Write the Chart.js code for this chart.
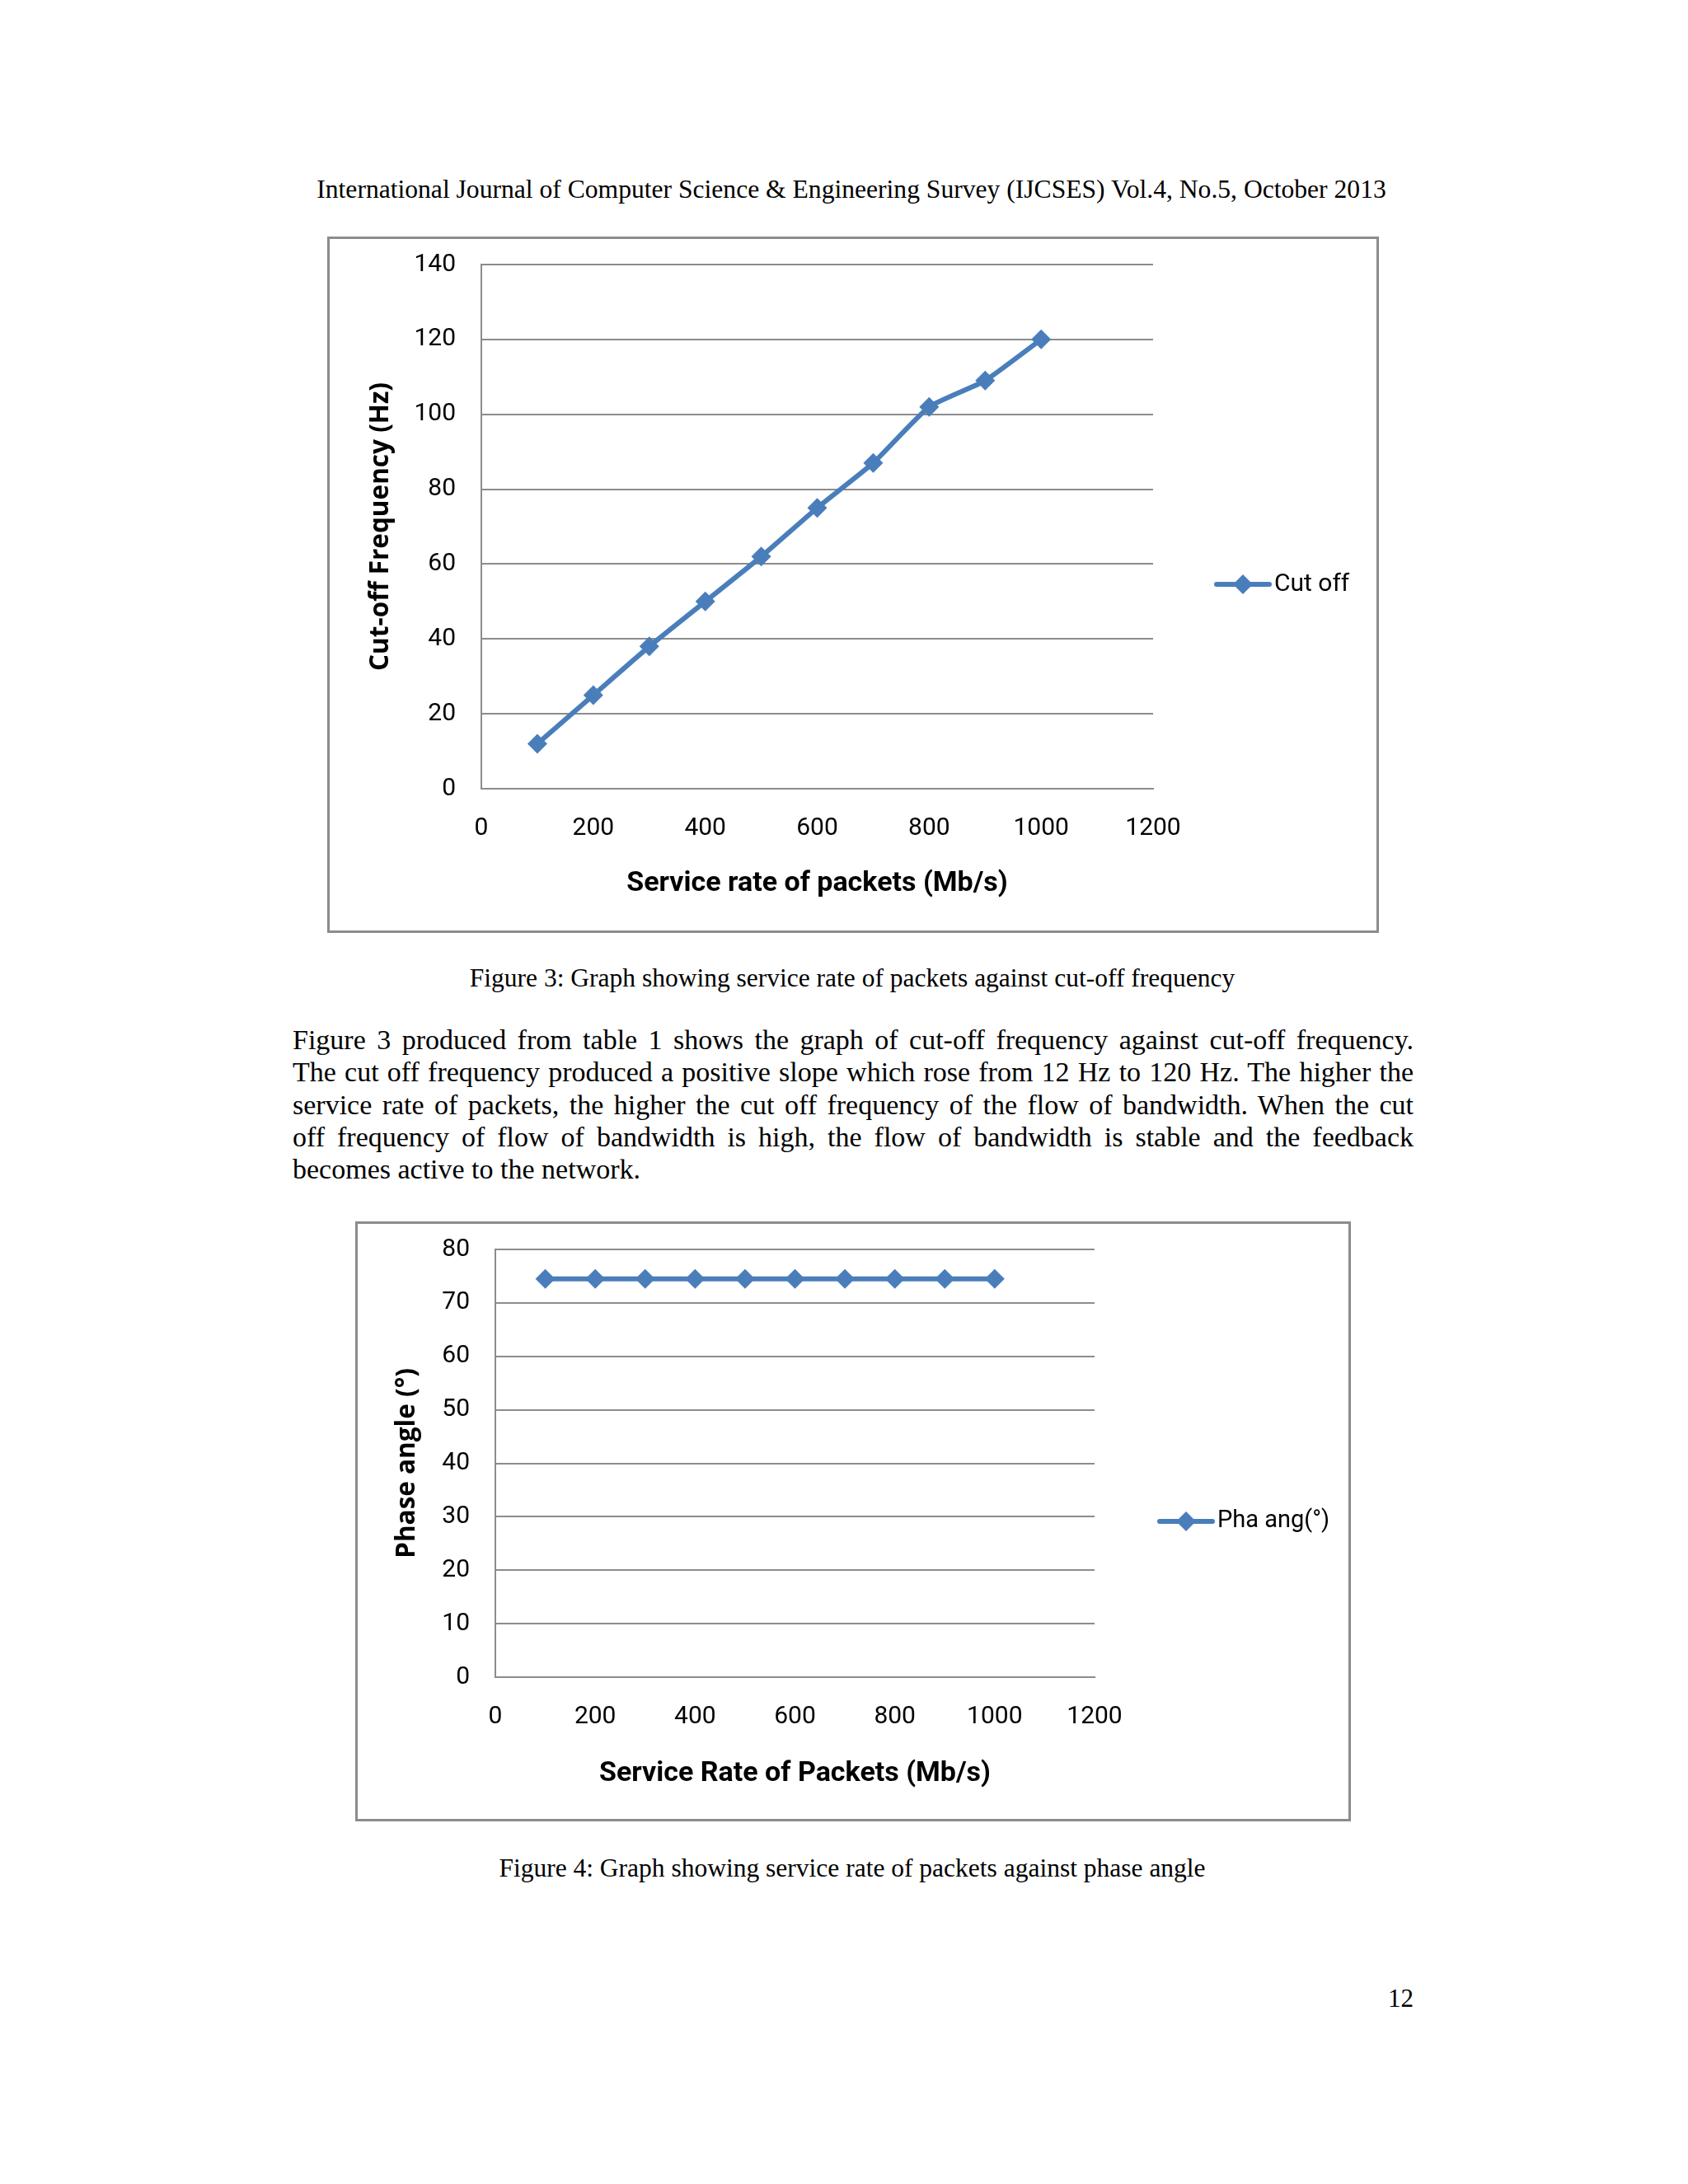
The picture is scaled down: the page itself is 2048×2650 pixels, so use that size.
<!DOCTYPE html>
<html>
<head>
<meta charset="utf-8">
<script src="https://cdn.jsdelivr.net/npm/chart.js@4.4.1/dist/chart.umd.min.js"></script>
<style>
  body { margin: 0; background: #fff; }
  .page { position: relative; width: 2048px; height: 2650px; background: #fff; font-family: "Liberation Serif", "Times New Roman", serif; color: #000; }
  .txt { position: absolute; white-space: nowrap; }
  .box { position: absolute; box-sizing: border-box; border: 3px solid #8c8c8c; }
  .box canvas { position: absolute; left: -3px; top: -3px; }
  .para { position: absolute; left: 355px; width: 1360px; font-size: 34px; line-height: 39.3px; }
  .para div { text-align: justify; text-align-last: justify; }
  .para div.last { text-align-last: left; }
</style>
</head>
<body>
<div class="page">
  <div class="txt" style="left:0; width:2066px; text-align:center; top:212px; font-size:31.6px;">International Journal of Computer Science &amp; Engineering Survey (IJCSES) Vol.4, No.5, October 2013</div>

  <div class="box" style="left:397px; top:287px; width:1276px; height:845px;">
    <canvas id="chart1" width="1276" height="845"></canvas>
  </div>

  <div class="txt" style="left:0; width:2068px; text-align:center; top:1169px; font-size:31.5px;">Figure 3: Graph showing service rate of packets against cut-off frequency</div>

  <div class="para" style="top:1242px;">
    <div>Figure 3 produced from table 1 shows the graph of cut-off frequency against cut-off frequency.</div>
    <div>The cut off frequency produced a positive slope which rose from 12 Hz to 120 Hz. The higher the</div>
    <div>service rate of packets, the higher the cut off frequency of the flow of bandwidth. When the cut</div>
    <div>off frequency of flow of bandwidth is high, the flow of bandwidth is stable and the feedback</div>
    <div class="last">becomes active to the network.</div>
  </div>

  <div class="box" style="left:431px; top:1482px; width:1208px; height:728px;">
    <canvas id="chart2" width="1208" height="728"></canvas>
  </div>

  <div class="txt" style="left:0; width:2068px; text-align:center; top:2249px; font-size:31.5px;">Figure 4: Graph showing service rate of packets against phase angle</div>

  <div class="txt" style="left:1640px; width:75px; text-align:right; top:2407px; font-size:31px;">12</div>
</div>

<script>
// service rate of packets (Mb/s)
const serviceRate = [100, 200, 300, 400, 500, 600, 700, 800, 900, 1000];
// figure 3: cut-off frequency (Hz)
const cutOff = [12, 25, 38, 50, 62, 75, 87, 102, 109, 120];
// figure 4: phase angle (degrees)
const phaseAngle = [74.5, 74.5, 74.5, 74.5, 74.5, 74.5, 74.5, 74.5, 74.5, 74.5];

const blue = '#4A7EBB';
const gridGrey = '#8c8c8c';
const sans = "'Liberation Sans Narrow', 'Roboto', sans-serif";
const tickFont = { family: sans, size: 30 };

// legend: short line with a diamond in the middle, then the label
const lineLegend = {
  id: 'lineLegend',
  afterDraw(chart, args, opts) {
    const ctx = chart.ctx;
    ctx.save();
    ctx.strokeStyle = blue;
    ctx.lineWidth = 6;
    ctx.lineCap = 'round';
    ctx.beginPath();
    ctx.moveTo(opts.x, opts.y);
    ctx.lineTo(opts.x + 64, opts.y);
    ctx.stroke();
    const cx = opts.x + 32, r = 12;
    ctx.fillStyle = blue;
    ctx.beginPath();
    ctx.moveTo(cx, opts.y - r);
    ctx.lineTo(cx + r, opts.y);
    ctx.lineTo(cx, opts.y + r);
    ctx.lineTo(cx - r, opts.y);
    ctx.closePath();
    ctx.fill();
    ctx.fillStyle = '#000';
    ctx.font = opts.size + "px " + sans;
    ctx.textBaseline = 'middle';
    ctx.fillText(opts.text, opts.x + 70, opts.y);
    ctx.restore();
  }
};

function makeChart(id, values, yMax, yStep, yTitle, xTitle, pad, yWidth, xHeight, legend) {
  return new Chart(document.getElementById(id), {
    type: 'line',
    data: {
      datasets: [{
        label: legend.text,
        data: serviceRate.map((x, i) => ({ x: x, y: values[i] })),
        borderColor: blue,
        backgroundColor: blue,
        borderWidth: 6,
        pointStyle: 'rectRot',
        pointRadius: 12,
        pointBorderWidth: 0,
        tension: 0.15
      }]
    },
    options: {
      responsive: false,
      animation: false,
      devicePixelRatio: 1,
      layout: { padding: pad },
      plugins: {
        legend: { display: false },
        tooltip: { enabled: false },
        lineLegend: legend
      },
      scales: {
        x: {
          type: 'linear',
          min: 0, max: 1200,
          ticks: { stepSize: 200, padding: 30, color: '#000', font: tickFont,
                   callback: v => String(v) },
          grid: { display: false, drawTicks: false },
          border: { display: true, color: gridGrey, width: 2 },
          title: { display: true, text: xTitle, color: '#000', padding: 0,
                   font: { family: sans, size: 34, weight: 'bold' } },
          afterFit(scale) { scale.height = xHeight; }
        },
        y: {
          min: 0, max: yMax,
          ticks: { stepSize: yStep, padding: 31, color: '#000', font: tickFont,
                   callback: v => String(v) },
          grid: { color: gridGrey, lineWidth: 2, drawTicks: false },
          border: { display: true, color: gridGrey, width: 2 },
          title: { display: true, text: yTitle, color: '#000', padding: 0,
                   font: { family: "'Open Sans', sans-serif", size: 31.5, weight: 'bold' } },
          afterFit(scale) {
            scale.width = yWidth;
            // let layout.padding alone decide the top of the plot
            scale.paddingTop = 0;
            scale.paddingBottom = 0;
          }
        }
      }
    },
    plugins: [lineLegend]
  });
}

makeChart('chart1', cutOff, 140, 20, 'Cut-off Frequency (Hz)', 'Service rate of packets (Mb/s)',
  { left: 46, top: 34, right: 274, bottom: 39 }, 141, 136,
  { x: 1079, y: 422, text: 'Cut off', size: 30 });

makeChart('chart2', phaseAngle, 80, 10, 'Phase angle (°)', 'Service Rate of Packets (Mb/s)',
  { left: 44, top: 34, right: 311, bottom: 37 }, 126, 138,
  { x: 976, y: 364, text: 'Pha ang(°)', size: 29 });
</script>
</body>
</html>
